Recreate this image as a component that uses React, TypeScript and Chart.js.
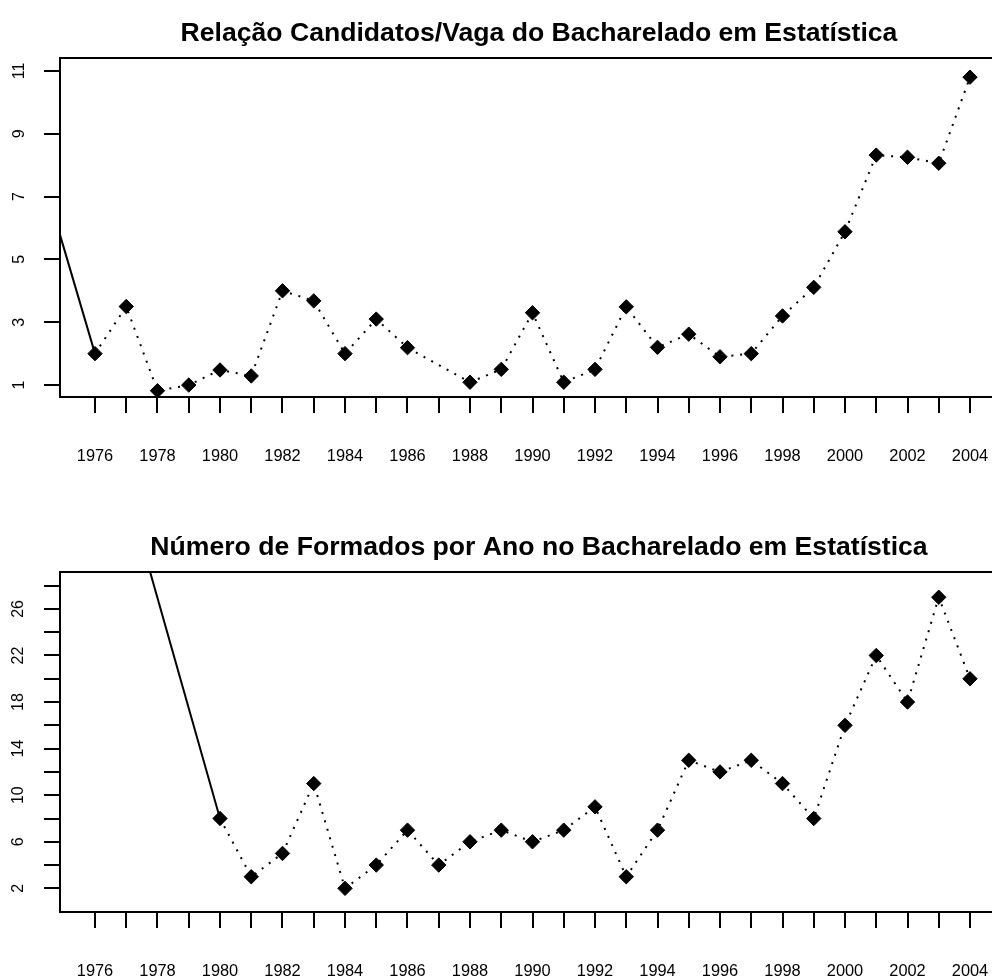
import React, { useEffect, useRef } from "react";
import { Chart, registerables } from "chart.js";

Chart.register(...registerables);

// ---------- data ----------
const titleTop = "Relação Candidatos/Vaga do Bacharelado em Estatística";
const titleBottom = "Número de Formados por Ano no Bacharelado em Estatística";

// candidates per place (first entry lies outside the plotted range, joined by a solid segment)
const yearsTop = [
  1974, 1976, 1977, 1978, 1979, 1980, 1981, 1982, 1983, 1984, 1985, 1986,
  1988, 1989, 1990, 1991, 1992, 1993, 1994, 1995, 1996, 1997, 1998, 1999,
  2000, 2001, 2002, 2003, 2004,
];
const ratioTop = [
  8.75, 2.0, 3.5, 0.82, 1.0, 1.48, 1.29, 4.0, 3.68, 2.0, 3.1, 2.19,
  1.09, 1.5, 3.3, 1.09, 1.5, 3.49, 2.2, 2.62, 1.9, 2.0, 3.2, 4.11,
  5.88, 8.32, 8.25, 8.06, 10.8,
];

// graduates per year (first entry lies outside the plotted range)
const yearsBottom = [
  1977, 1980, 1981, 1982, 1983, 1984, 1985, 1986, 1987, 1988, 1989, 1990,
  1991, 1992, 1993, 1994, 1995, 1996, 1997, 1998, 1999, 2000, 2001, 2002,
  2003, 2004,
];
const graduatesBottom = [
  36.4, 8, 3, 5, 11, 2, 4, 7, 4, 6, 7, 6,
  7, 9, 3, 7, 13, 12, 13, 11, 8, 16, 22, 18,
  27, 20,
];

const xTickYears = [
  1976, 1977, 1978, 1979, 1980, 1981, 1982, 1983, 1984, 1985, 1986, 1987,
  1988, 1989, 1990, 1991, 1992, 1993, 1994, 1995, 1996, 1997, 1998, 1999,
  2000, 2001, 2002, 2003, 2004,
];
const xLabelYears = [
  1976, 1978, 1980, 1982, 1984, 1986, 1988, 1990, 1992, 1994, 1996, 1998,
  2000, 2002, 2004,
];

const yTicksTop = [1, 3, 5, 7, 9, 11];
const yLabelsTop = [1, 3, 5, 7, 9, 11];
const yTicksBottom = [2, 4, 6, 8, 10, 12, 14, 16, 18, 20, 22, 24, 26, 28];
const yLabelsBottom = [2, 6, 10, 14, 18, 22, 26];

const xRange = [1974.88, 2005.12];
const yRangeTop = [0.62, 11.41];
const yRangeBottom = [-0.03, 29.17];

// ---------- styling ----------
const FONT = '"Liberation Sans", Arial, Helvetica, sans-serif';
const CANVAS_W = 1090;
const CANVAS_H = 489;

const framePlugin = {
  id: "rFrame",
  afterDatasetsDraw(chart: any) {
    const { ctx, chartArea } = chart;
    ctx.save();
    ctx.strokeStyle = "#000";
    ctx.lineWidth = 2;
    ctx.strokeRect(
      Math.round(chartArea.left),
      Math.round(chartArea.top),
      Math.round(chartArea.right - chartArea.left),
      Math.round(chartArea.bottom - chartArea.top)
    );
    ctx.restore();
  },
};

const titlePlugin = {
  id: "rTitle",
  afterDraw(chart: any, _args: any, opts: any) {
    const { ctx } = chart;
    ctx.save();
    ctx.fillStyle = "#000";
    ctx.font = `bold ${opts.size}px ${FONT}`;
    ctx.textAlign = "center";
    ctx.textBaseline = "alphabetic";
    ctx.fillText(opts.text, opts.center, opts.baseline);
    ctx.restore();
  },
};

type PanelProps = {
  years: number[];
  values: number[];
  title: string;
  yTicks: number[];
  yLabels: number[];
  yRange: number[];
  areaTop: number;
  areaBottom: number;
  titleBaseline: number;
};

function makeConfig(p: PanelProps): any {
  const dotted = [2, 6.8];
  return {
    type: "line",
    data: {
      datasets: [
        {
          data: p.years.map((x, i) => ({ x, y: p.values[i] })),
          borderColor: "#000",
          borderWidth: 2,
          borderDash: dotted,
          tension: 0,
          fill: false,
          pointStyle: "rectRot",
          pointRadius: (c: any) => (c.dataIndex === 0 ? 0 : 7.2),
          pointBackgroundColor: "#000",
          pointBorderColor: "#000",
          pointBorderWidth: 1,
          segment: {
            borderDash: (c: any) => (c.p0DataIndex === 0 ? [] : dotted),
          },
        },
      ],
    },
    options: {
      responsive: false,
      animation: false,
      events: [],
      layout: {
        padding: { left: 0, top: p.areaTop, right: CANVAS_W - 1005, bottom: 0 },
      },
      plugins: {
        legend: { display: false },
        tooltip: { enabled: false },
        title: { display: false },
        rTitle: { text: p.title, size: 26.6, baseline: p.titleBaseline, center: 539 },
      },
      scales: {
        x: {
          type: "linear",
          position: "bottom",
          min: xRange[0],
          max: xRange[1],
          afterBuildTicks: (scale: any) => {
            scale.ticks = xTickYears.map((v) => ({ value: v }));
          },
          afterFit: (scale: any) => {
            scale.height = CANVAS_H - p.areaBottom;
          },
          grid: {
            display: true,
            drawOnChartArea: false,
            drawTicks: true,
            tickLength: 16,
            color: "#000",
            lineWidth: 2,
          },
          border: { display: false },
          ticks: {
            autoSkip: false,
            maxRotation: 0,
            minRotation: 0,
            padding: 34,
            color: "#000",
            font: { family: FONT, size: 16.4 },
            callback: (v: any) => (xLabelYears.includes(Number(v)) ? String(v) : ""),
          },
        },
        y: {
          type: "linear",
          position: "left",
          min: p.yRange[0],
          max: p.yRange[1],
          afterBuildTicks: (scale: any) => {
            scale.ticks = p.yTicks.map((v) => ({ value: v }));
          },
          afterFit: (scale: any) => {
            scale.width = 60;
          },
          grid: {
            display: true,
            drawOnChartArea: false,
            drawTicks: true,
            tickLength: 16,
            color: "#000",
            lineWidth: 2,
          },
          border: { display: false },
          ticks: {
            autoSkip: false,
            minRotation: 90,
            maxRotation: 90,
            crossAlign: "center",
            padding: 16.6,
            color: "#000",
            font: { family: FONT, size: 16 },
            callback: (v: any) => (p.yLabels.includes(Number(v)) ? String(v) : ""),
          },
        },
      },
    },
    plugins: [framePlugin, titlePlugin],
  };
}

function Panel(props: PanelProps & { top: number }) {
  const ref = useRef<HTMLCanvasElement | null>(null);
  useEffect(() => {
    if (!ref.current) return;
    const chart = new Chart(ref.current, makeConfig(props));
    return () => chart.destroy();
  }, []);
  return (
    <canvas
      ref={ref}
      width={CANVAS_W}
      height={CANVAS_H}
      style={{
        position: "absolute",
        left: 0,
        top: props.top,
        width: CANVAS_W,
        height: CANVAS_H,
        display: "block",
      }}
    />
  );
}

export default function App() {
  useEffect(() => {
    document.body.style.margin = "0";
    document.body.style.background = "#fff";
  }, []);
  return (
    <div
      style={{
        position: "absolute",
        left: 0,
        top: 0,
        width: 992,
        height: 978,
        overflow: "hidden",
        background: "#fff",
      }}
    >
      <Panel
        top={0}
        years={yearsTop}
        values={ratioTop}
        title={titleTop}
        yTicks={yTicksTop}
        yLabels={yLabelsTop}
        yRange={yRangeTop}
        areaTop={58}
        areaBottom={397}
        titleBaseline={41}
      />
      <Panel
        top={489}
        years={yearsBottom}
        values={graduatesBottom}
        title={titleBottom}
        yTicks={yTicksBottom}
        yLabels={yLabelsBottom}
        yRange={yRangeBottom}
        areaTop={83}
        areaBottom={423}
        titleBaseline={66}
      />
    </div>
  );
}
